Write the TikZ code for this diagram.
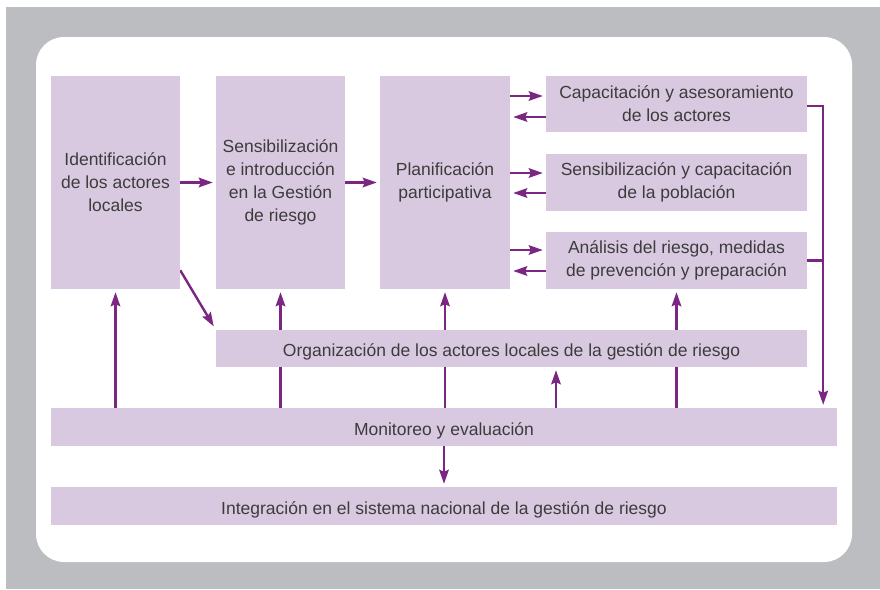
\documentclass[tikz,border=0pt]{standalone}
\usepackage{fontspec}
\setmainfont{Liberation Sans}
\usetikzlibrary{arrows.meta,calc}
\definecolor{bggray}{HTML}{BCBDC0}
\definecolor{boxfill}{HTML}{D9C9E0}
\definecolor{arrpurple}{HTML}{7A2682}
\definecolor{txtgray}{HTML}{3C3C3C}
\pgfdeclarelayer{bgl}
\pgfdeclarelayer{conn}
\pgfsetlayers{bgl,conn,main}
\tikzset{
  box/.style={fill=boxfill, draw=none, inner sep=0pt, align=center, text=txtgray,
    font=\fontsize{17.5}{23}\selectfont},
  singleline/.style={text height=19.5pt, text depth=3.5pt},
  arr/.style={draw=arrpurple, line width=2.4pt, -{Stealth[length=14pt,width=9.5pt,inset=2pt]}, shorten >=3pt},
  plainline/.style={draw=arrpurple, line width=2.4pt}
}
\begin{document}
\begin{tikzpicture}[x=1pt,y=-1pt]
\useasboundingbox (0,0) rectangle (880,589);
\begin{pgfonlayer}{bgl}
  \fill[bggray] (6,7) rectangle (880,589);
  \fill[white, rounded corners=28pt] (36,37) rectangle (852,562);
\end{pgfonlayer}

\node[box, minimum width=129pt, minimum height=213pt] (id) at (115.5,182.5) {Identificación\\de los actores\\locales};
\node[box, minimum width=129pt, minimum height=213pt] (sen) at (280.5,182.5) {Sensibilización\\e introducción\\en la Gestión\\de riesgo};
\node[box, minimum width=130pt, minimum height=213pt] (plan) at (445,182.5) {Planificación\\participativa};
\node[box, minimum width=261pt, minimum height=56pt] (cap) at (676.5,104) {Capacitación y asesoramiento\\de los actores};
\node[box, minimum width=261pt, minimum height=57pt] (pob) at (676.5,182.5) {Sensibilización y capacitación\\de la población};
\node[box, minimum width=261pt, minimum height=57pt] (ana) at (676.5,260.5) {Análisis del riesgo, medidas\\de prevención y preparación};
\node[box, singleline, minimum width=591pt, minimum height=37pt] (org) at (511.5,348.5) {Organización de los actores locales de la gestión de riesgo};
\node[box, singleline, minimum width=786pt, minimum height=38pt] (mon) at (444,427) {Monitoreo y evaluación};
\node[box, singleline, minimum width=786pt, minimum height=38pt] (int) at (444,506) {Integración en el sistema nacional de la gestión de riesgo};

\begin{pgfonlayer}{conn}
  % main flow
  \draw[arr] (id.east) -- (sen.west);
  \draw[arr] (sen.east) -- (plan.west);
  % planning <-> right boxes
  \draw[arr] ([yshift=8pt]cap.west -| plan.east) -- ([yshift=8pt]cap.west);
  \draw[arr] ([yshift=-13pt]cap.west) -- ([yshift=-13pt]cap.west -| plan.east);
  \draw[arr] ([yshift=9.5pt]pob.west -| plan.east) -- ([yshift=9.5pt]pob.west);
  \draw[arr] ([yshift=-10.5pt]pob.west) -- ([yshift=-10.5pt]pob.west -| plan.east);
  \draw[arr] ([yshift=10.5pt]ana.west -| plan.east) -- ([yshift=10.5pt]ana.west);
  \draw[arr] ([yshift=-10.5pt]ana.west) -- ([yshift=-10.5pt]ana.west -| plan.east);
  % right bracket to monitoring
  \draw[arr] ([yshift=-2pt]cap.east) -- ++(16,0) coordinate (brt) -- (brt |- mon.north);
  \draw[plainline] (ana.east) -- (ana.east -| brt);
  % diagonal
  \draw[arr, shorten >=4pt] ([yshift=19pt]id.south east) -- (org.north west);
  % monitoring up arrows
  \draw[arr] (id.south |- mon.north) -- (id.south);
  \draw[arr] (sen.south |- mon.north) -- (sen.south);
  \draw[arr] (plan.south |- mon.north) -- (plan.south);
  \draw[arr] ([xshift=44.5pt]org.south |- mon.north) -- ([xshift=44.5pt]org.south);
  \draw[arr] (ana.south |- mon.north) -- (ana.south);
  % monitoring down to integration
  \draw[arr] (mon.south) -- (int.north);
\end{pgfonlayer}
\end{tikzpicture}
\end{document}
